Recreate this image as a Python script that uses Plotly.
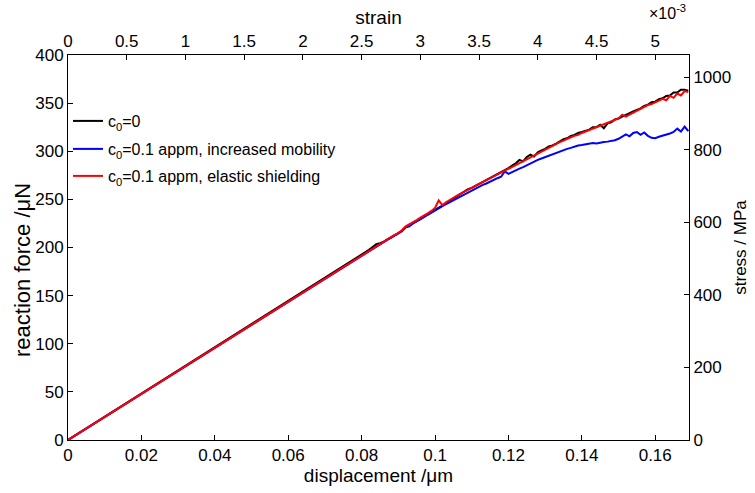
import plotly.graph_objects as go

# displacement grid (um)
displacement = [0, 0.02, 0.04, 0.06, 0.07,
    0.080, 0.081, 0.082, 0.083, 0.084, 0.085, 0.086, 0.087, 0.088, 0.089,
    0.090, 0.091, 0.092, 0.093, 0.094, 0.095, 0.096, 0.097, 0.098, 0.099,
    0.100, 0.101, 0.102, 0.103, 0.104, 0.105, 0.106, 0.107, 0.108, 0.109,
    0.110, 0.111, 0.112, 0.113, 0.114, 0.115, 0.116, 0.117, 0.118, 0.119,
    0.120, 0.121, 0.122, 0.123, 0.124, 0.125, 0.126, 0.127, 0.128, 0.129,
    0.130, 0.131, 0.132, 0.133, 0.134, 0.135, 0.136, 0.137, 0.138, 0.139,
    0.140, 0.141, 0.142, 0.143, 0.144, 0.145, 0.146, 0.147, 0.148, 0.149,
    0.150, 0.151, 0.152, 0.153, 0.154, 0.155, 0.156, 0.157, 0.158, 0.159,
    0.160, 0.161, 0.162, 0.163, 0.164, 0.165, 0.166, 0.167, 0.168, 0.169]

force_c0 = [0, 48, 96, 144, 168,
    192, 194.5, 197.5, 200.5, 203.5, 204.5, 206, 208.5, 210.5, 212.5,
    215, 217.5, 221, 223, 225, 227.5, 229.5, 232, 234, 236.5,
    239, 241, 243.5, 246, 248.5, 251, 253, 255.5, 258, 260.5,
    262, 264, 266, 268, 270, 272, 274, 276, 278, 280,
    282.5, 285, 287.5, 291, 289.5, 294, 296.5, 294.5, 299, 301,
    302.5, 305, 306, 308, 310, 312.5, 313.5, 316, 317, 319,
    320, 321.5, 322.5, 325, 325, 327.5, 324, 329, 330, 333,
    334, 336, 337.5, 339.5, 341.5, 343, 344.5, 347, 348.5, 351,
    351.5, 354, 355, 357.5, 358, 361, 361, 364, 364, 363]

force_mobility = [0, 48, 96, 144, 168,
    192, 194, 196.5, 199, 201, 203.5, 205.5, 208, 210, 212.5,
    214.5, 217, 221, 222, 225, 227, 229.5, 231.5, 234, 236,
    238.5, 240.5, 243, 245, 247, 249, 251, 253, 255, 257.5,
    259, 261, 263, 265, 266.5, 268.5, 270, 272, 273.5, 279,
    276.5, 278.5, 280, 282, 283.5, 285.5, 287, 289, 291, 292.5,
    294, 295.5, 297, 298, 300, 301, 302.5, 303.5, 305, 306,
    306.5, 307, 307.5, 308.5, 308, 309, 309.5, 310, 310.5, 311.5,
    313, 315, 317.5, 315.5, 319, 320, 317, 319.5, 316, 314,
    313.5, 315, 316, 317, 318.5, 320, 323.5, 320.5, 325.5, 321]

force_shielding = [0, 48, 96, 144, 168,
    192, 194.5, 197, 199, 201.5, 204, 206, 208.5, 210.5, 213,
    215, 218, 222, 224, 226, 228.5, 231, 233, 235.5, 238,
    241, 249, 244, 247, 249.5, 251.5, 254, 256, 258, 260,
    262, 264, 266, 268, 270, 272, 273.5, 275.5, 277.5, 279.5,
    282, 284, 285.5, 288, 290, 292, 294, 296, 297.5, 300,
    302, 304, 305.5, 307.5, 309.5, 311, 313, 314.5, 316, 317,
    319, 320.5, 322, 323, 325, 326.5, 328, 329.5, 331, 332,
    334, 338, 336, 338, 340, 342, 343.5, 346, 348, 349,
    351, 353, 354.5, 353, 357.5, 355.5, 360, 358, 362.5, 361.5]

series_names = ["c<sub>0</sub>=0",
                "c<sub>0</sub>=0.1 appm, increased mobility",
                "c<sub>0</sub>=0.1 appm, elastic shielding"]
series_colors = ["#000000", "#0000ff", "#ff0000"]

x_ticks = [0, 0.02, 0.04, 0.06, 0.08, 0.1, 0.12, 0.14, 0.16]
strain_ticks = [0, 0.5, 1, 1.5, 2, 2.5, 3, 3.5, 4, 4.5, 5]  # x 1e-3
length_um = 32.0  # displacement / strain
y_ticks = [0, 50, 100, 150, 200, 250, 300, 350, 400]
stress_ticks = [0, 200, 400, 600, 800, 1000]
x_max = 0.1692
y_max = 400
stress_max = 1062

FONT = "Liberation Sans, Arial, sans-serif"

fig = go.Figure()
legend_ids = ["legend", "legend2", "legend3"]
for name, vals, col, lg in zip(series_names, [force_c0, force_mobility, force_shielding],
                               series_colors, legend_ids):
    fig.add_trace(go.Scatter(x=displacement, y=vals, mode="lines", name=name, legend=lg,
                             line=dict(color=col, width=2)))

# invisible trace to activate the secondary axes
fig.add_trace(go.Scatter(x=[0, x_max / length_um], y=[0, stress_max], xaxis="x2", yaxis="y2",
                         mode="lines", line=dict(width=0), showlegend=False, hoverinfo="skip"))

axis_common = dict(showgrid=False, zeroline=False, showline=True, linecolor="black", linewidth=1,
                   ticks="inside", ticklen=5, tickcolor="black", tickwidth=1, automargin=False,
                   tickfont=dict(family=FONT, size=17, color="black"))

leg_common = dict(xanchor="left", yanchor="middle", bgcolor="rgba(0,0,0,0)",
                  font=dict(family=FONT, size=16), itemwidth=30, borderwidth=0)
plot_h = 385.0
fig.update_layout(
    width=755, height=493,
    margin=dict(l=68, r=66, t=55, b=53, autoexpand=False),
    plot_bgcolor="white", paper_bgcolor="white",
    font=dict(family=FONT, size=16, color="black"),
    xaxis=dict(range=[0, x_max], tickvals=x_ticks, ticktext=[("%g" % v) for v in x_ticks],
               title=dict(text="displacement /μm", font=dict(family=FONT, size=19), standoff=2),
               **axis_common),
    yaxis=dict(range=[0, y_max], tickvals=y_ticks, **axis_common),
    xaxis2=dict(overlaying="x", side="top", range=[0, x_max / length_um],
                tickvals=[v * 1e-3 for v in strain_ticks], ticktext=[("%g" % v) for v in strain_ticks],
                title=dict(text="strain", font=dict(family=FONT, size=19), standoff=2),
                **axis_common),
    yaxis2=dict(overlaying="y", side="right", range=[0, stress_max], tickvals=stress_ticks,
                title=dict(text="stress / MPa", font=dict(family=FONT, size=17), standoff=3),
                **axis_common),
    legend=dict(x=0.0, y=(440 - 121) / plot_h, **leg_common),
    legend2=dict(x=0.0, y=(440 - 149) / plot_h, **leg_common),
    legend3=dict(x=0.0, y=(440 - 176) / plot_h, **leg_common),
    showlegend=True,
    annotations=[
        dict(text="×10<sup>-3</sup>", xref="paper", yref="paper", x=1.0, y=1.0,
             xanchor="right", yanchor="bottom", yshift=31, xshift=-1, showarrow=False,
             font=dict(family=FONT, size=16)),
        dict(text="reaction force /μN", xref="paper", yref="paper", x=0.0, xshift=-46,
             y=(440 - 270) / plot_h, xanchor="center", yanchor="middle", textangle=-90,
             showarrow=False, font=dict(family=FONT, size=22)),
    ],
)

fig.write_html("out.html", config={"displayModeBar": False},
               post_script="document.body.style.margin='0px';document.body.style.overflow='hidden';")
